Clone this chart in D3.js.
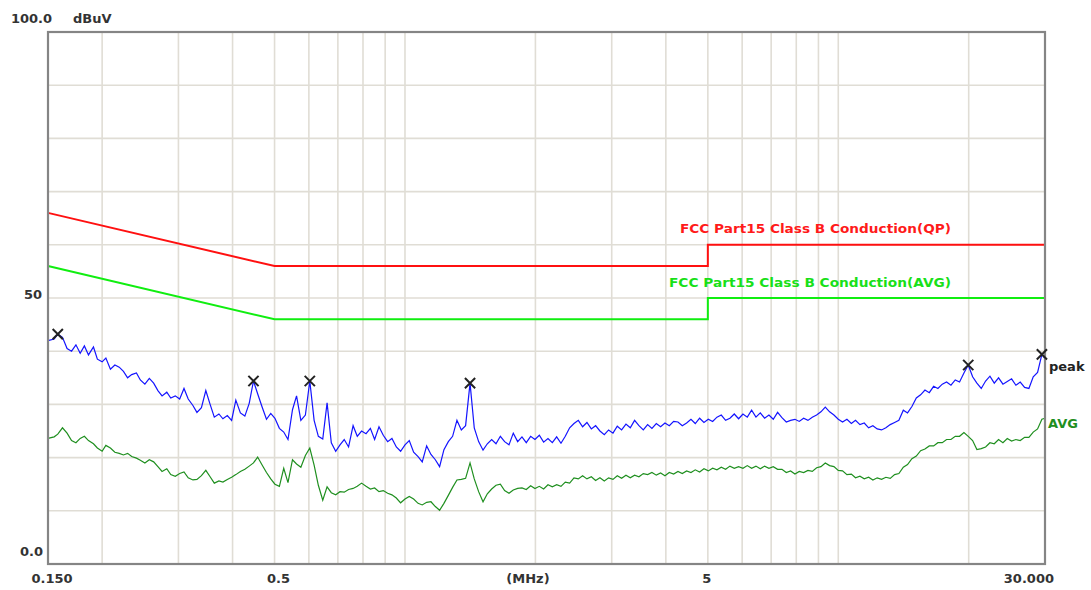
<!DOCTYPE html>
<html>
<head>
<meta charset="utf-8">
<script src="https://cdn.jsdelivr.net/npm/d3@7"></script>
<style>
  body { margin: 0; background: #fff; }
  text { font-family: "DejaVu Sans", Verdana, sans-serif; font-weight: bold; }
</style>
</head>
<body>
<script>

// frequency grid of the scan (MHz)
const freqs = [
  0.150, 0.155, 0.158, 0.162, 0.166, 0.170, 0.174, 0.178, 0.182, 0.186,
  0.191, 0.195, 0.200, 0.204, 0.209, 0.214, 0.219, 0.224, 0.229, 0.234,
  0.240, 0.245, 0.251, 0.257, 0.263, 0.269, 0.275, 0.282, 0.288, 0.295,
  0.302, 0.309, 0.316, 0.324, 0.331, 0.339, 0.347, 0.355, 0.363, 0.372,
  0.380, 0.389, 0.398, 0.407, 0.417, 0.427, 0.437, 0.447, 0.457, 0.468,
  0.479, 0.490, 0.501, 0.513, 0.525, 0.537, 0.550, 0.562, 0.575, 0.589,
  0.603, 0.617, 0.631, 0.646, 0.661, 0.676, 0.692, 0.708, 0.724, 0.741,
  0.759, 0.776, 0.794, 0.813, 0.832, 0.851, 0.871, 0.891, 0.912, 0.933,
  0.955, 0.977, 1.000, 1.023, 1.047, 1.072, 1.096, 1.122, 1.148, 1.175,
  1.202, 1.230, 1.259, 1.288, 1.318, 1.349, 1.380, 1.413, 1.445, 1.479,
  1.514, 1.549, 1.585, 1.622, 1.660, 1.698, 1.738, 1.778, 1.820, 1.862,
  1.905, 1.950, 1.995, 2.042, 2.089, 2.138, 2.188, 2.239, 2.291, 2.344,
  2.399, 2.455, 2.512, 2.570, 2.630, 2.692, 2.754, 2.818, 2.884, 2.951,
  3.020, 3.090, 3.162, 3.236, 3.311, 3.388, 3.467, 3.548, 3.631, 3.715,
  3.802, 3.890, 3.981, 4.074, 4.169, 4.266, 4.365, 4.467, 4.571, 4.677,
  4.786, 4.898, 5.012, 5.129, 5.248, 5.370, 5.495, 5.623, 5.754, 5.888,
  6.026, 6.166, 6.310, 6.457, 6.607, 6.761, 6.918, 7.079, 7.244, 7.413,
  7.586, 7.762, 7.943, 8.128, 8.318, 8.511, 8.710, 8.913, 9.120, 9.333,
  9.550, 9.772, 10.00, 10.23, 10.47, 10.72, 10.96, 11.22, 11.48, 11.75,
  12.02, 12.30, 12.59, 12.88, 13.18, 13.49, 13.80, 14.13, 14.45, 14.79,
  15.14, 15.49, 15.85, 16.22, 16.60, 16.98, 17.38, 17.78, 18.20, 18.62,
  19.05, 19.50, 19.95, 20.42, 20.89, 21.38, 21.88, 22.39, 22.91, 23.44,
  23.99, 24.55, 25.12, 25.70, 26.30, 26.92, 27.54, 28.18, 28.84, 29.51,
  30.00
];

// peak detector trace (dBuV)
const peak = [
  42.0, 42.3, 43.2, 42.6, 40.5, 40.0, 41.2, 39.6, 41.0, 39.3,
  40.8, 38.5, 38.0, 38.7, 36.6, 37.4, 37.0, 36.2, 35.0, 35.6,
  35.9, 34.6, 33.8, 34.9, 34.0, 32.6, 31.6, 32.3, 31.2, 31.6,
  31.0, 33.0, 31.0, 29.8, 28.5, 29.4, 32.6, 30.0, 27.6, 28.2,
  27.3, 27.9, 27.0, 30.8, 28.4, 27.8, 30.2, 34.4, 32.0, 29.5,
  27.2, 28.3, 27.4, 25.5, 24.8, 23.4, 29.0, 31.6, 27.0, 28.0,
  34.4, 27.0, 24.0, 23.5, 30.3, 22.8, 21.2, 22.4, 23.4, 22.0,
  26.0, 24.0, 25.0, 24.5, 25.5, 23.4, 25.8, 24.2, 23.0, 23.6,
  22.0, 21.2, 22.4, 23.2, 21.0, 20.2, 19.2, 22.2, 20.6, 19.6,
  18.3, 21.5, 23.0, 24.0, 27.0, 25.2, 26.0, 34.0, 25.6, 23.0,
  21.4, 22.6, 23.4, 22.6, 24.0, 23.0, 22.4, 24.6, 23.0, 23.9,
  22.8, 24.0, 23.4, 24.2, 22.9, 23.6, 22.8, 23.9, 22.7, 24.0,
  25.6, 26.4, 27.0, 25.8, 26.6, 25.4, 26.0, 25.0, 24.3, 25.2,
  24.6, 25.9, 25.2, 26.3, 25.6, 27.0, 26.0, 25.2, 26.2, 25.5,
  26.4, 25.8, 26.5, 26.0, 26.8, 26.7, 26.0, 26.5, 27.2, 26.4,
  27.4, 26.6, 27.2, 26.8, 27.6, 28.0, 27.0, 27.4, 28.2, 27.3,
  28.2, 27.6, 28.9, 27.6, 28.4, 27.4, 28.0, 27.2, 28.5, 27.5,
  26.7, 27.0, 27.2, 26.8, 27.4, 27.0, 27.6, 28.0, 28.6, 29.5,
  28.6, 28.0, 27.2, 26.7, 27.2, 26.4, 27.0, 26.2, 26.5, 25.6,
  26.0, 25.4, 25.2, 25.6, 26.2, 26.6, 27.0, 28.9, 28.4, 29.6,
  31.2, 31.8, 32.7, 32.2, 33.4, 33.0, 33.8, 34.2, 33.6, 34.6,
  34.2, 35.9, 37.4, 35.2, 34.0, 33.0, 34.4, 35.3, 34.0, 35.0,
  33.8, 34.3, 34.8, 33.6, 34.2, 33.2, 33.0, 35.2, 36.0, 39.4,
  38.6
];

// average detector trace (dBuV)
const avg = [
  23.6, 23.9, 24.4, 25.6, 24.6, 23.2, 22.8, 23.6, 24.0, 23.2,
  22.6, 21.8, 21.2, 22.3, 21.8, 21.0, 20.8, 20.5, 20.8, 20.2,
  19.9, 19.5, 19.0, 19.6, 19.2, 18.3, 17.4, 17.9, 16.8, 16.5,
  17.0, 17.3, 16.2, 15.8, 15.9, 16.6, 17.6, 16.4, 15.2, 15.6,
  15.4, 15.9, 16.3, 16.8, 17.4, 17.8, 18.4, 19.0, 20.1, 18.6,
  17.2, 16.0, 15.0, 14.6, 18.0, 15.3, 19.6, 18.8, 18.2, 20.4,
  21.8, 18.6, 14.8, 12.0, 14.5, 13.4, 13.0, 13.6, 13.5, 14.0,
  14.2, 14.6, 15.2, 14.6, 14.1, 14.3, 13.6, 13.8, 13.3, 13.0,
  12.4, 11.5, 12.2, 12.7, 12.2, 11.4, 11.1, 11.6, 11.7, 10.8,
  10.1, 11.4, 12.9, 14.4, 15.8, 15.9, 16.1, 19.0, 16.0, 13.6,
  11.7, 13.2, 14.1, 14.8, 15.0, 13.8, 13.3, 13.9, 14.2, 14.3,
  14.0, 14.7, 14.2, 14.6, 14.1, 14.9, 14.5, 14.9, 14.6, 15.4,
  15.2, 16.2, 16.0, 16.6, 16.0, 16.4, 15.7, 16.2, 15.6, 16.2,
  15.9, 16.6, 16.1, 16.7, 16.2, 16.7, 16.4, 17.0, 16.8, 17.2,
  16.7, 17.1, 16.6, 17.2, 16.9, 17.4, 17.0, 17.5, 17.2, 17.7,
  17.3, 17.9, 17.5, 18.0, 17.7, 18.2, 17.8, 18.4, 18.0, 18.3,
  18.0, 18.5, 18.0, 18.4, 17.9, 18.4, 18.0, 18.3, 17.8, 17.8,
  17.2, 17.5, 16.9, 17.4, 17.2, 17.6, 17.4, 18.1, 18.3, 19.0,
  18.5, 18.3, 17.6, 17.5, 16.8, 16.9, 16.2, 16.5, 16.0, 16.3,
  15.8, 16.2, 15.9, 16.3, 16.1, 16.8, 17.0, 18.2, 18.7, 19.8,
  20.3, 21.3, 21.6, 22.2, 22.2, 22.8, 22.8, 23.4, 23.4, 24.0,
  24.0, 24.7, 24.0, 23.2, 21.5, 21.7, 22.0, 22.8, 22.6, 23.4,
  22.8, 23.6, 23.1, 23.4, 23.2, 23.8, 23.8, 24.8, 25.4, 27.2,
  27.4
];

// FCC Part 15 Class B conducted limits
const limitFreqs = [0.15, 0.5, 0.5, 5, 5, 30];
const limitQP    = [66, 56, 56, 56, 60, 60];
const limitAVG   = [56, 46, 46, 46, 50, 50];

// marked peaks
const markerFreqs  = [0.158, 0.447, 0.603, 1.413, 19.95, 29.51];
const markerLevels = [43.2, 34.4, 34.4, 34.0, 37.4, 39.4];

// grid and tick labels
const gridFreqs  = [0.2, 0.3, 0.4, 0.5, 0.6, 0.7, 0.8, 0.9, 1, 2, 3, 4, 5, 6, 7, 8, 9, 10, 20];
const gridLevels = [10, 20, 30, 40, 50, 60, 70, 80, 90];
const xTickValues = [0.15, 0.5, 5, 30];
const xTickText   = ['0.150', '0.5', '5', '30.000'];
const yTickValues = [100, 50, 0];
const yTickText   = ['100.0', '50', '0.0'];

const WIDTH = 1091, HEIGHT = 590;
const PLOT = { left: 48, right: 1045, top: 32, bottom: 564 };

const x = d3.scaleLog().domain([0.15, 30]).range([PLOT.left, PLOT.right]);
const y = d3.scaleLinear().domain([0, 100]).range([PLOT.bottom, PLOT.top]);

const svg = d3.select('body').append('svg')
  .attr('width', WIDTH)
  .attr('height', HEIGHT);

// grid
svg.append('g').selectAll('line')
  .data(gridFreqs)
  .enter().append('line')
    .attr('x1', (d) => x(d)).attr('x2', (d) => x(d))
    .attr('y1', PLOT.top).attr('y2', PLOT.bottom)
    .attr('stroke', '#e0ddd5').attr('stroke-width', 1.6);

svg.append('g').selectAll('line')
  .data(gridLevels)
  .enter().append('line')
    .attr('x1', PLOT.left).attr('x2', PLOT.right)
    .attr('y1', (d) => y(d)).attr('y2', (d) => y(d))
    .attr('stroke', '#e0ddd5').attr('stroke-width', 1.6);

// limit lines
const line = d3.line()
  .defined((d) => d[1] != null)
  .x((d) => x(d[0]))
  .y((d) => y(d[1]));

svg.append('path')
  .attr('d', line(d3.zip(limitFreqs, limitQP)))
  .attr('fill', 'none').attr('stroke', '#ff1010').attr('stroke-width', 2);

svg.append('path')
  .attr('d', line(d3.zip(limitFreqs, limitAVG)))
  .attr('fill', 'none').attr('stroke', '#10ee10').attr('stroke-width', 2);

svg.append('text')
  .attr('x', 951).attr('y', 233)
  .attr('text-anchor', 'end')
  .attr('font-size', 12)
  .attr('textLength', 271).attr('lengthAdjust', 'spacingAndGlyphs')
  .attr('fill', '#ff1a1a')
  .text('FCC Part15 Class B Conduction(QP)');

svg.append('text')
  .attr('x', 951).attr('y', 287)
  .attr('text-anchor', 'end')
  .attr('font-size', 12)
  .attr('textLength', 282).attr('lengthAdjust', 'spacingAndGlyphs')
  .attr('fill', '#18e018')
  .text('FCC Part15 Class B Conduction(AVG)');

// traces
svg.append('path')
  .attr('d', line(d3.zip(freqs, avg)))
  .attr('fill', 'none').attr('stroke', '#1f8f1f').attr('stroke-width', 1.2);

svg.append('path')
  .attr('d', line(d3.zip(freqs, peak)))
  .attr('fill', 'none').attr('stroke', '#1414ff').attr('stroke-width', 1.2);

// frame
svg.append('rect')
  .attr('x', PLOT.left).attr('y', PLOT.top)
  .attr('width', PLOT.right - PLOT.left).attr('height', PLOT.bottom - PLOT.top)
  .attr('fill', 'none').attr('stroke', '#858585').attr('stroke-width', 2.2);

// peak markers
svg.append('g').selectAll('path')
  .data(d3.zip(markerFreqs, markerLevels))
  .enter().append('path')
    .attr('d', d3.symbol(d3.symbolTimes).size(70))
    .attr('transform', (d) => `translate(${x(d[0])}, ${y(d[1])})`)
    .attr('fill', 'none').attr('stroke', '#222').attr('stroke-width', 2);

// trace names
svg.append('text')
  .attr('x', 1049).attr('y', 371)
  .attr('font-size', 13).attr('fill', '#222')
  .text('peak');

svg.append('text')
  .attr('x', 1048).attr('y', 428)
  .attr('font-size', 13).attr('fill', '#1f8f1f')
  .text('AVG');

// axis labels
const yOffset = { 100: -9, 50: 1, 0: -8 };
const yRight  = { 100: 52, 50: 42, 0: 43 };
svg.append('g').selectAll('text')
  .data(d3.zip(yTickValues, yTickText))
  .enter().append('text')
    .attr('x', (d) => yRight[d[0]])
    .attr('y', (d) => y(d[0]) + yOffset[d[0]])
    .attr('text-anchor', 'end')
    .attr('font-size', 13).attr('fill', '#333')
    .text((d) => d[1]);

svg.append('text')
  .attr('x', 73).attr('y', 23)
  .attr('font-size', 13).attr('fill', '#333')
  .text('dBuV');

const xAnchor = (v) => v === 30 ? 'end' : 'middle';
const xShift  = (v) => v === 30 ? 9 : (v === 5 ? -1 : 4);
svg.append('g').selectAll('text')
  .data(d3.zip(xTickValues, xTickText))
  .enter().append('text')
    .attr('x', (d) => x(d[0]) + xShift(d[0]))
    .attr('y', 583)
    .attr('text-anchor', (d) => xAnchor(d[0]))
    .attr('font-size', 13).attr('fill', '#333')
    .text((d) => d[1]);

svg.append('text')
  .attr('x', 528).attr('y', 583)
  .attr('text-anchor', 'middle')
  .attr('font-size', 13).attr('fill', '#333')
  .text('(MHz)');

</script>
</body>
</html>
